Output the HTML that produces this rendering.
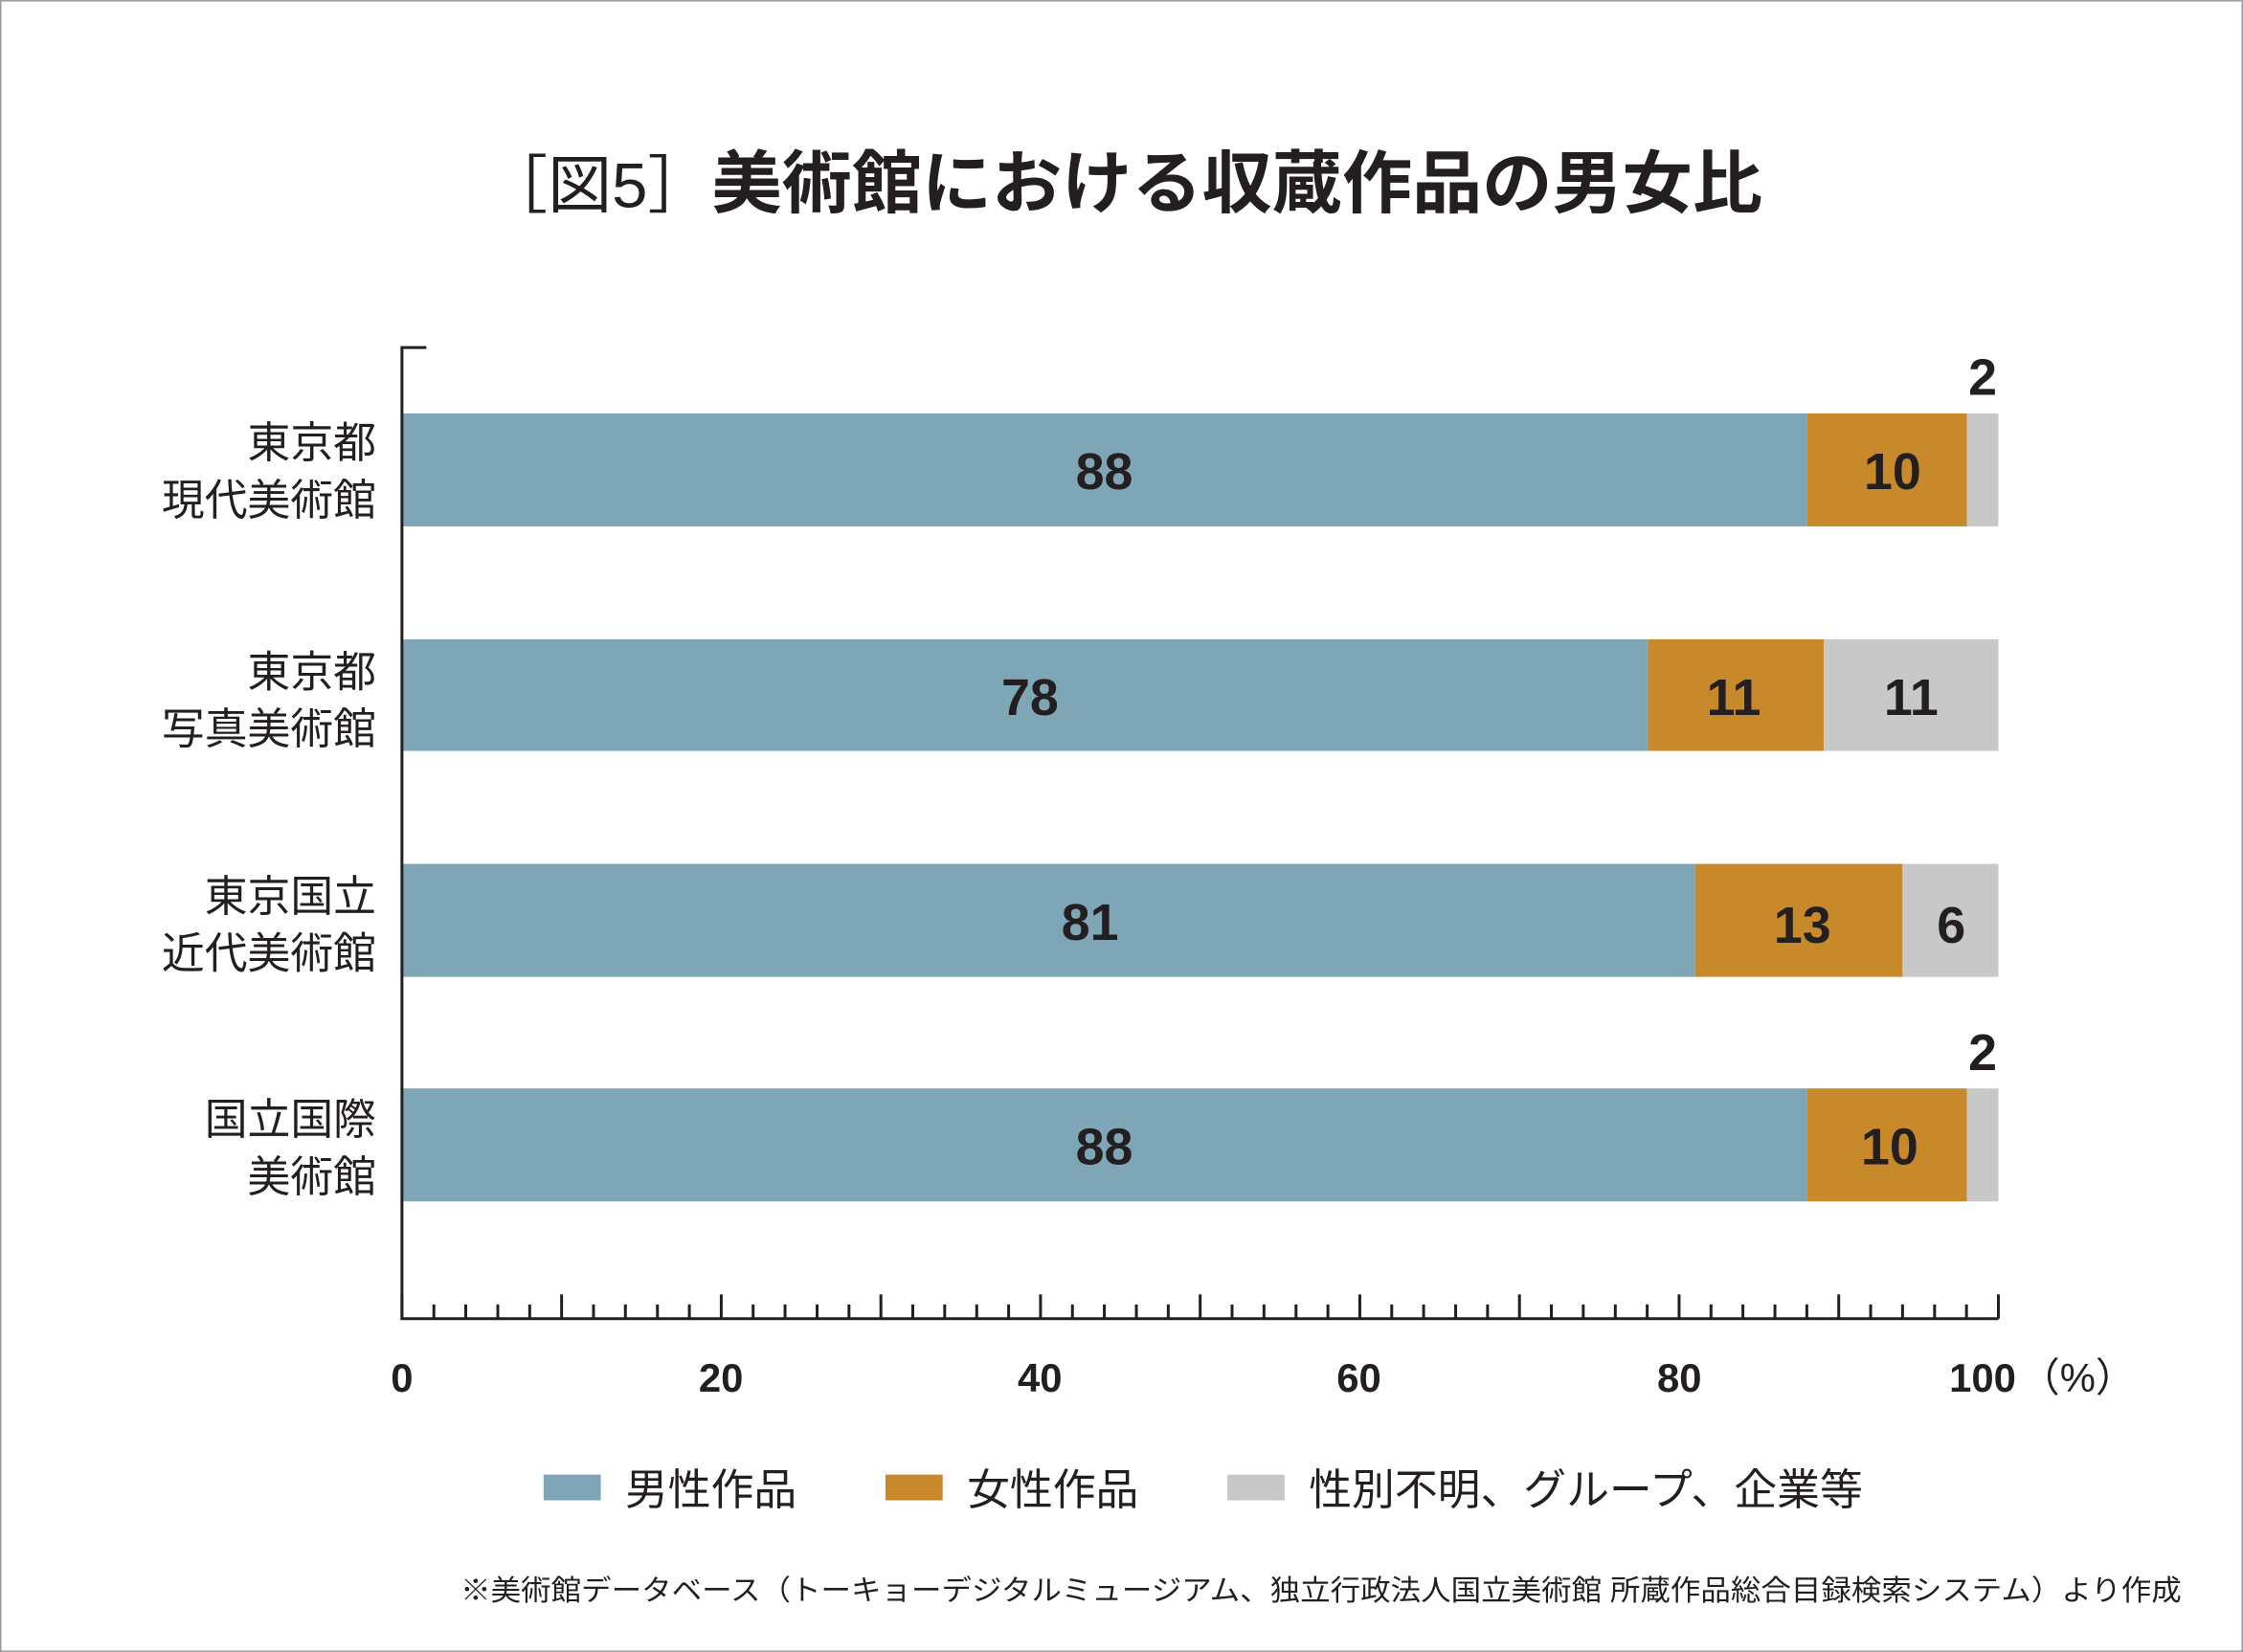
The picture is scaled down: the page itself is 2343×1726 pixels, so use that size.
<!DOCTYPE html>
<html><head><meta charset="utf-8"><style>
html,body{margin:0;padding:0;background:#fff}
svg{display:block}
text{font-family:"Liberation Sans","Noto Sans CJK JP",sans-serif;fill:#231f20}
</style></head><body>
<svg width="2343" height="1726" viewBox="0 0 1568 1155" xmlns="http://www.w3.org/2000/svg">
<rect x="0.5" y="0.5" width="1567" height="1154" fill="#fff" stroke="#999" stroke-width="1"/>
<text x="338" y="145" font-size="48" font-weight="bold" textLength="894" lengthAdjust="spacingAndGlyphs"><tspan font-weight="normal" font-size="44">［図5］</tspan>美術館における収蔵作品の男女比</text>
<g>
<rect x="281" y="289" width="982" height="79" fill="#7fa6b7"/><rect x="1263" y="289" width="112" height="79" fill="#c8892a"/><rect x="1375" y="289" width="22" height="79" fill="#c8c8c8"/>
<rect x="281" y="447" width="871" height="78" fill="#7fa6b7"/><rect x="1152" y="447" width="123" height="78" fill="#c8892a"/><rect x="1275" y="447" width="122" height="78" fill="#c8c8c8"/>
<rect x="281" y="604" width="904" height="79" fill="#7fa6b7"/><rect x="1185" y="604" width="145" height="79" fill="#c8892a"/><rect x="1330" y="604" width="67" height="79" fill="#c8c8c8"/>
<rect x="281" y="761" width="982" height="79" fill="#7fa6b7"/><rect x="1263" y="761" width="112" height="79" fill="#c8892a"/><rect x="1375" y="761" width="22" height="79" fill="#c8c8c8"/>
</g>
<g font-size="36" font-weight="bold" text-anchor="middle">
<text x="772" y="342">88</text><text x="1323" y="342">10</text><text x="1386" y="276">2</text>
<text x="720" y="500">78</text><text x="1212" y="500">11</text><text x="1336" y="500">11</text>
<text x="762" y="657">81</text><text x="1260" y="659">13</text><text x="1364" y="659">6</text>
<text x="772" y="814">88</text><text x="1321" y="814">10</text><text x="1386" y="748">2</text>
</g>
<g font-size="30" text-anchor="end">
<text x="263" y="320">東京都</text><text x="263" y="360">現代美術館</text>
<text x="263" y="480">東京都</text><text x="263" y="520">写真美術館</text>
<text x="263" y="637">東京国立</text><text x="263" y="677">近代美術館</text>
<text x="263" y="793">国立国際</text><text x="263" y="833">美術館</text>
</g>
<g stroke="#231f20" stroke-width="2" fill="none">
<path d="M298 243 H281 V922 H1397"/>
<path d="
M281 905V922 M303.3 912V922 M325.6 912V922 M348 912V922 M370.3 912V922 M392.6 905V922 M414.9 912V922 M437.2 912V922 M459.6 912V922 M481.9 912V922
M504.2 905V922 M526.5 912V922 M548.8 912V922 M571.2 912V922 M593.5 912V922 M615.8 905V922 M638.1 912V922 M660.4 912V922 M682.8 912V922 M705.1 912V922
M727.4 905V922 M749.7 912V922 M772 912V922 M794.4 912V922 M816.7 912V922 M839 905V922 M861.3 912V922 M883.6 912V922 M906 912V922 M928.3 912V922
M950.6 905V922 M972.9 912V922 M995.2 912V922 M1017.6 912V922 M1039.9 912V922 M1062.2 905V922 M1084.5 912V922 M1106.8 912V922 M1129.2 912V922 M1151.5 912V922
M1173.8 905V922 M1196.1 912V922 M1218.4 912V922 M1240.8 912V922 M1263.1 912V922 M1285.4 905V922 M1307.7 912V922 M1330 912V922 M1352.4 912V922 M1374.7 912V922 M1397 905V922"/>
</g>
<g font-size="28" font-weight="bold" text-anchor="middle">
<text x="281" y="973">0</text><text x="504" y="973">20</text><text x="727" y="973">40</text><text x="950" y="973">60</text><text x="1174" y="973">80</text><text x="1386" y="973">100</text>
</g>
<text x="1412" y="973" font-size="28">（%）</text>
<rect x="380" y="1031" width="40" height="18" fill="#7fa6b7"/><text x="437" y="1052" font-size="30">男性作品</text>
<rect x="619" y="1031" width="40" height="18" fill="#c8892a"/><text x="676" y="1052" font-size="30">女性作品</text>
<rect x="858" y="1031" width="40" height="18" fill="#c8c8c8"/><text x="915" y="1052" font-size="30">性別不明、グループ、企業等</text>
<text x="322" y="1119" font-size="20" textLength="1203" lengthAdjust="spacingAndGlyphs">※美術館データベース（トーキョーデジタルミュージアム、独立行政法人国立美術館 所蔵作品総合目録検索システム）より作成</text>
</svg>
</body></html>
